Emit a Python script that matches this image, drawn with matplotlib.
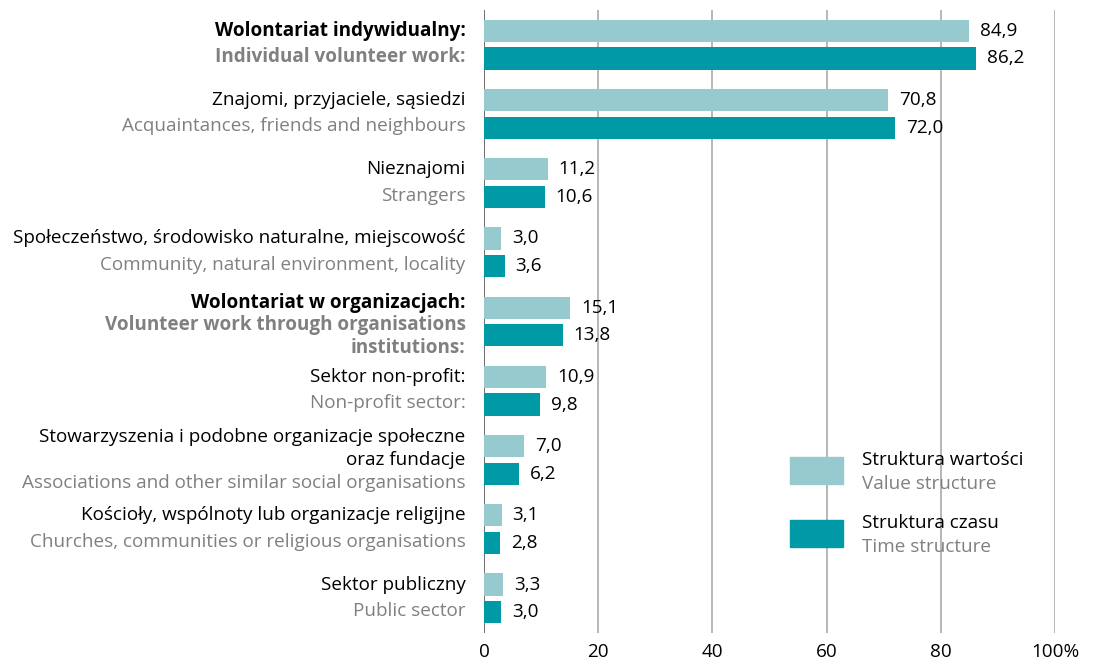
import matplotlib
matplotlib.use("Agg")
import matplotlib.pyplot as plt
from matplotlib.patches import Rectangle

plt.rcParams['font.family'] = ['Open Sans', 'DejaVu Sans']

# ---- data ----
labels_pl = [
    "Wolontariat indywidualny:",
    "Znajomi, przyjaciele, sąsiedzi",
    "Nieznajomi",
    "Społeczeństwo, środowisko naturalne, miejscowość",
    "Wolontariat w organizacjach:",
    "Sektor non-profit:",
    "Stowarzyszenia i podobne organizacje społeczne\noraz fundacje",
    "Kościoły, wspólnoty lub organizacje religijne",
    "Sektor publiczny",
]
labels_en = [
    "Individual volunteer work:",
    "Acquaintances, friends and neighbours",
    "Strangers",
    "Community, natural environment, locality",
    "Volunteer work through organisations\ninstitutions:",
    "Non-profit sector:",
    "Associations and other similar social organisations",
    "Churches, communities or religious organisations",
    "Public sector",
]
bold_rows = [0, 4]
value_structure = [84.9, 70.8, 11.2, 3.0, 15.1, 10.9, 7.0, 3.1, 3.3]
time_structure = [86.2, 72.0, 10.6, 3.6, 13.8, 9.8, 6.2, 2.8, 3.0]
legend_pl = ["Struktura wartości", "Struktura czasu"]
legend_en = ["Value structure", "Time structure"]
xticks = [0, 20, 40, 60, 80, 100]
xtick_labels = ["0", "20", "40", "60", "80", "100%"]

LIGHT = "#97CACF"
DARK = "#0099A6"
GREY = "#808080"

fig = plt.figure(figsize=(11.01, 6.67), dpi=100)
ax = fig.add_axes([484/1101, 1-633/667, (1055-484)/1101, (633-10)/667])

n = len(labels_pl)
ys = list(range(n))
bh = 0.32
off = 0.2
ax.barh([y - off for y in ys], value_structure, height=bh, color=LIGHT, zorder=3)
ax.barh([y + off for y in ys], time_structure, height=bh, color=DARK, zorder=3)

fs = 13.6
for y, v in zip(ys, value_structure):
    ax.text(v + 1.9, y - off, f"{v:.1f}".replace(".", ","), va="center", ha="left", fontsize=fs, color="black")
for y, v in zip(ys, time_structure):
    ax.text(v + 1.9, y + off, f"{v:.1f}".replace(".", ","), va="center", ha="left", fontsize=fs, color="black")

ax.set_xlim(0, 100)
ax.set_ylim(n - 0.5, -0.5)
for x in xticks:
    ax.axvline(x, color="#555555" if x == 0 else "#AAAAAA", lw=1.2, zorder=1)
for s in ax.spines.values():
    s.set_visible(False)
ax.set_yticks([])
ax.set_xticks(xticks)
ax.set_xticklabels(xtick_labels, fontsize=fs)
ax.tick_params(axis="x", length=0, pad=7)

# category labels
tx = -3.2
for i in range(n):
    pl = labels_pl[i].split("\n")
    en = labels_en[i].split("\n")
    lines = [(t, "black") for t in pl] + [(t, GREY) for t in en]
    weight = "bold" if i in bold_rows else "normal"
    if len(lines) == 2:
        offs = [-0.2, 0.18]
    elif i == 4:
        offs = [-0.27, 0.05, 0.38]
    else:
        offs = [-0.33, 0.0, 0.33]
    for (t, c), o in zip(lines, offs):
        ax.text(tx, i + o, t, ha="right", va="center", fontsize=fs, color=c,
                fontweight=weight, clip_on=False)

# legend
for k, (c, pl, en) in enumerate(zip([LIGHT, DARK], legend_pl, legend_en)):
    top = 457 + k * 63
    fig.patches.append(Rectangle((790/1101, 1 - (top + 27)/667), 53/1101, 27/667,
                                 transform=fig.transFigure, color=c))
    fig.text(862/1101, 1 - (top + 3)/667, pl, fontsize=fs, color="black", va="center", ha="left")
    fig.text(862/1101, 1 - (top + 27)/667, en, fontsize=fs, color=GREY, va="center", ha="left")

fig.savefig("out.png", dpi=100)
